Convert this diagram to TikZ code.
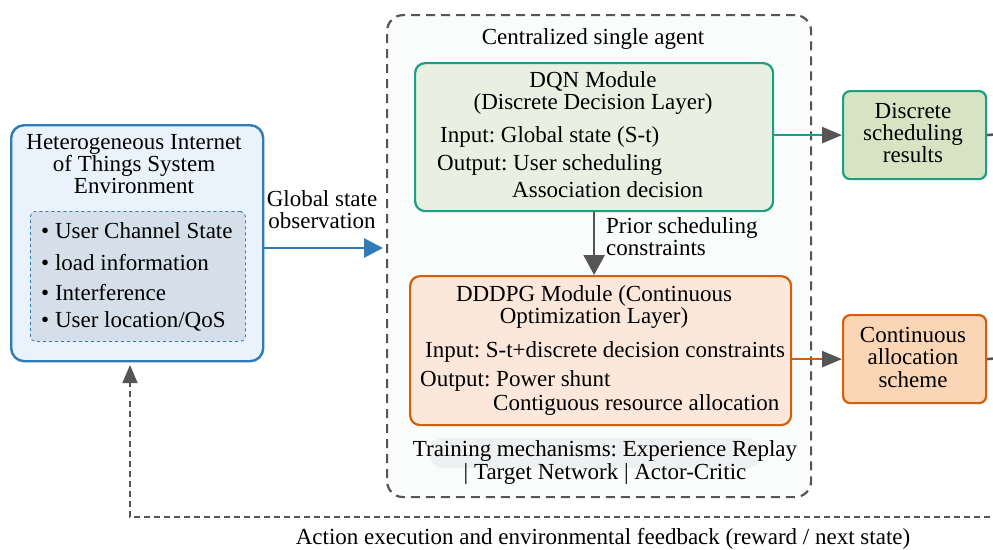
\documentclass[tikz,border=0pt]{standalone}
\usepackage{fontspec}
\setmainfont{Liberation Serif}
\usetikzlibrary{arrows.meta}
\frenchspacing
\definecolor{envblue}{HTML}{2E7BB6}
\definecolor{envfill}{HTML}{EAF3FB}
\definecolor{envinner}{HTML}{D4DFEA}
\definecolor{tealc}{HTML}{1B9E83}
\definecolor{dqnfill}{HTML}{E9EFE1}
\definecolor{discfill}{HTML}{D7E4C3}
\definecolor{orangec}{HTML}{D35F0E}
\definecolor{ddpgfill}{HTML}{FCE8DA}
\definecolor{contfill}{HTML}{FAD5B6}
\definecolor{darkg}{HTML}{555555}
\definecolor{agentfill}{HTML}{FAFCFC}
\definecolor{trainfill}{HTML}{EEF0F2}
\tikzset{
  box/.style={rounded corners=10pt, line width=2.2pt, inner sep=0pt, anchor=north west},
  txt/.style={inner sep=0pt, anchor=mid, yshift=-4.5pt},
  txtl/.style={inner sep=0pt, anchor=mid west, yshift=-4.5pt},
  tip/.style={-{Triangle[length=20pt,width=16pt,color=darkg]}},
}
\begin{document}
\begin{tikzpicture}[x=1pt,y=-1pt,font=\fontsize{23}{24}\selectfont]
\useasboundingbox (0,0) rectangle (993,549);

% centralized agent container
\node[box, draw=darkg, dashed, dash pattern=on 9pt off 6pt, fill=agentfill, rounded corners=16pt,
      minimum width=424pt, minimum height=482pt] (agent) at (386,14) {};
\node[txt] (agentlbl) at (593,38) {Centralized single agent};

% environment
\node[box, draw=envblue, fill=envfill, rounded corners=13pt, line width=2.4pt,
      minimum width=252pt, minimum height=236pt] (env) at (10,124) {};
\node[txt] (e1) at (134,143) {Heterogeneous Internet};
\node[txt] (e2) at (134,165) {of Things System};
\node[txt] (e3) at (134,187) {Environment};
\node[box, draw=envblue, fill=envinner, dashed, line width=0.8pt, rounded corners=5pt,
      minimum width=215pt, minimum height=130pt] (state) at (30,211) {};
\node[txtl] (s1) at (41,232) {\textbullet\ User Channel State};
\node[txtl] (s2) at (41,264) {\textbullet\ load information};
\node[txtl] (s3) at (41,294) {\textbullet\ Interference};
\node[txtl] (s4) at (41,321) {\textbullet\ User location/QoS};

% DQN module
\node[box, draw=tealc, fill=dqnfill, minimum width=358pt, minimum height=148pt] (dqn) at (414,62) {};
\node[txt] (d1) at (593,81) {DQN Module};
\node[txt] (d2) at (593,103) {(Discrete Decision Layer)};
\node[txtl] (d3) at (440,136) {Input: Global state (S-t)};
\node[txtl] (d4) at (437,164) {Output: User scheduling};
\node[txtl] (d5) at (512,191) {Association decision};

% DDDPG module
\node[box, draw=orangec, fill=ddpgfill, minimum width=381pt, minimum height=149pt] (ddpg) at (409,275) {};
\node[txt] (p1) at (594,295) {DDDPG Module (Continuous};
\node[txt] (p2) at (594,317) {Optimization Layer)};
\node[txtl] (p3) at (425,351) {Input: S-t+discrete decision constraints};
\node[txtl] (p4) at (420,380) {Output: Power shunt};
\node[txtl] (p5) at (493,404) {Contiguous resource allocation};

% training mechanisms
\node[box, fill=trainfill, rounded corners=14pt, minimum width=332pt, minimum height=30pt] (trainbg) at (428,437) {};
\node[txt] (t1) at (605,450) {Training mechanisms: Experience Replay};
\node[txt] (t2) at (605,473) {| Target Network | Actor-Critic};

% result boxes
\node[box, draw=tealc, fill=discfill, rounded corners=7pt, minimum width=143pt, minimum height=88pt] (disc) at (842,90) {};
\node[txt] at (913,112) {Discrete};
\node[txt] at (913,134) {scheduling};
\node[txt] at (913,156) {results};
\node[box, draw=orangec, fill=contfill, rounded corners=7pt, minimum width=143pt, minimum height=88pt] (cont) at (842,314) {};
\node[txt] at (913,336) {Continuous};
\node[txt] at (913,358) {allocation};
\node[txt] at (913,381) {scheme};

% connectors
\coordinate (obsin) at (383,248);
\draw[line width=2.6pt, envblue, -{Triangle[length=19pt,width=19pt]}] (env.east |- obsin) -- (obsin);
\node[txt] (o1) at (322,200) {Global state};
\node[txt] (o2) at (322,222) {observation};

\draw[line width=2.6pt, darkg, -{Triangle[length=20pt,width=21pt]}] (dqn.south) -- (dqn.south |- ddpg.north);
\node[txtl] (c1) at (606,227) {Prior scheduling};
\node[txtl] (c2) at (606,249) {constraints};

\draw[line width=2.6pt, tealc, tip] (dqn.east |- disc.west) -- (disc.west);
\draw[line width=2.6pt, orangec, tip] (ddpg.east |- cont.west) -- (cont.west);

\coordinate (discout) at (1000,134);
\coordinate (contout) at (1000,358);
\draw[line width=2.6pt, darkg] (disc.east) -- (discout);
\draw[line width=2.6pt, darkg] (cont.east) -- (contout);

% feedback loop
\coordinate (fbr) at (1000,517);
\coordinate (fbl) at (130,517);
\coordinate (fbtip) at (130,365);
\draw[line width=1.6pt, darkg, dashed, dash pattern=on 6pt off 4pt, -{Triangle[length=18pt,width=15pt]}]
  (fbr) -- (fbl) -- (fbtip);
\node[txt] (fb) at (603,538) {Action execution and environmental feedback (reward / next state)};
\end{tikzpicture}
\end{document}
